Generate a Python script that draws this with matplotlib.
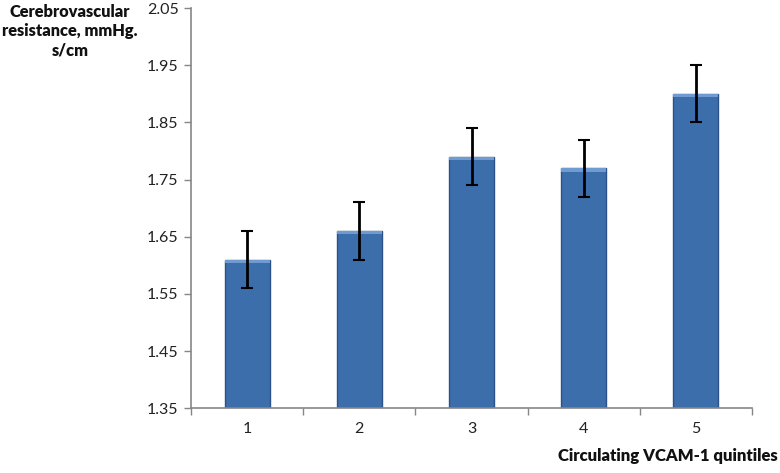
import matplotlib

matplotlib.use("Agg")
import matplotlib.pyplot as plt

quintiles = ["1", "2", "3", "4", "5"]
resistance = [1.61, 1.66, 1.79, 1.77, 1.90]
errors = [0.05, 0.05, 0.05, 0.05, 0.05]
y_ticks = [1.35, 1.45, 1.55, 1.65, 1.75, 1.85, 1.95, 2.05]

plt.rcParams["font.family"] = ["Lato", "DejaVu Sans"]

fig = plt.figure(figsize=(7.8, 4.73), dpi=100)
ax = fig.add_axes([0.245, 0.137, 0.719, 0.846])

x = list(range(1, len(quintiles) + 1))
base = y_ticks[0]
ax.bar(x, [v - base for v in resistance], bottom=base, width=0.4,
       color="#3C6EAC", edgecolor="#2A5288", linewidth=1.0, zorder=2)
# light top edge like the original bevel
ax.bar(x, [0.006] * len(x), bottom=[v - 0.006 for v in resistance], width=0.4,
       color="#6F9BD2", linewidth=0, zorder=3)
ax.errorbar(x, resistance, yerr=errors, fmt="none", ecolor="black",
            elinewidth=2, capsize=4, capthick=1.5, zorder=4)

ax.set_xlim(0.5, len(x) + 0.5)
ax.set_ylim(y_ticks[0], y_ticks[-1])
ax.set_yticks(y_ticks)
ax.set_yticklabels([f"{t:.2f}" for t in y_ticks])
ax.set_xticks(x)
ax.set_xticklabels(quintiles)
ax.set_xticks([i + 0.5 for i in range(0, len(x) + 1)], minor=True)
ax.tick_params(axis="x", which="major", length=0, pad=10, labelsize=11.5, labelcolor="#222222")
ax.tick_params(axis="x", which="minor", length=5, color="#868686", width=1)
ax.tick_params(axis="y", length=5, color="#868686", width=1, labelsize=11.5,
               labelcolor="#222222", pad=4)

for side in ("top", "right"):
    ax.spines[side].set_visible(False)
for side in ("left", "bottom"):
    ax.spines[side].set_color("#868686")
    ax.spines[side].set_linewidth(1.2)

fig.text(0.09, 0.992, "Cerebrovascular\nresistance, mmHg.\ns/cm", ha="center", va="top",
         fontsize=11.8, fontweight="heavy", linespacing=1.25, color="#111111")
fig.text(0.997, 0.036, "Circulating VCAM-1 quintiles", ha="right", va="center",
         fontsize=12, fontweight="heavy", color="#111111")

fig.savefig("out.png", dpi=100)
